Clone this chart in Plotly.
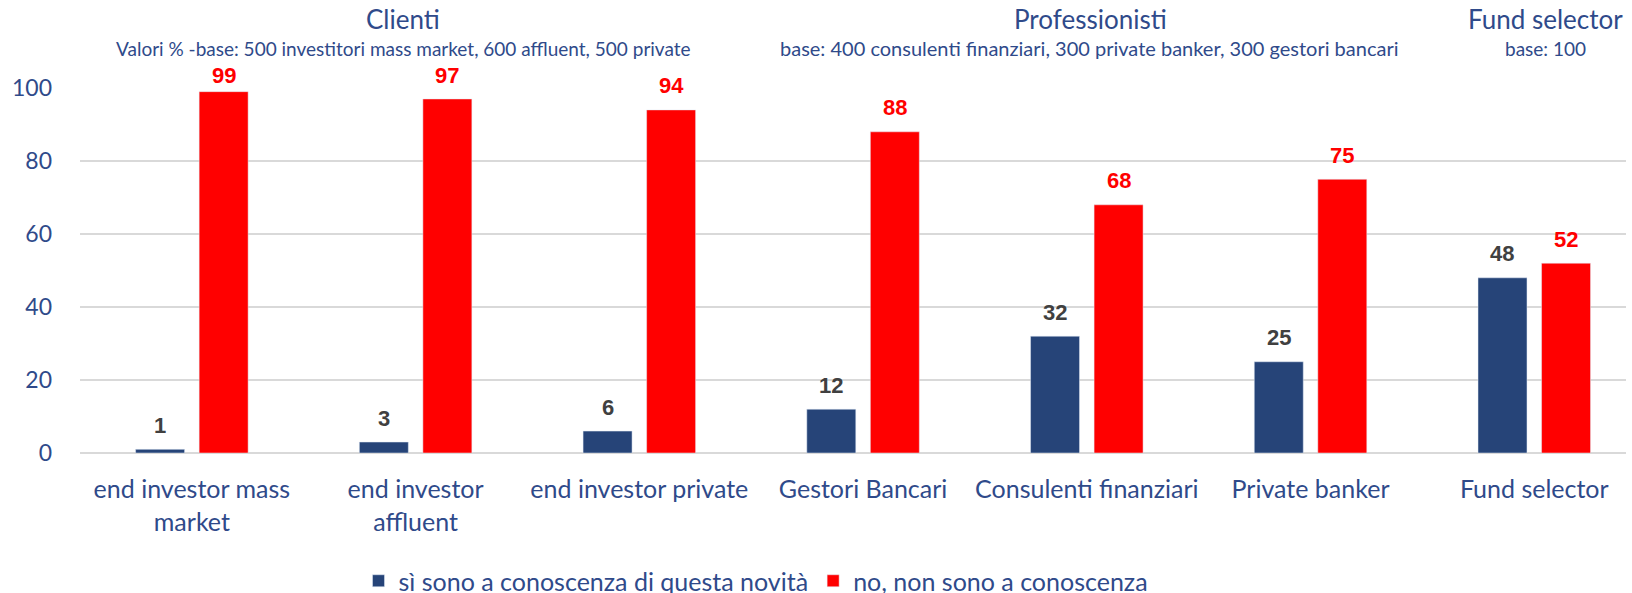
import plotly.graph_objects as go

categories = ["end investor mass<br>market", "end investor<br>affluent", "end investor private",
              "Gestori Bancari", "Consulenti finanziari", "Private banker", "Fund selector"]
si_values = [1, 3, 6, 12, 32, 25, 48]
no_values = [99, 97, 94, 88, 68, 75, 52]
series_names = ["sì sono a conoscenza di questa novità", "no, non sono a conoscenza"]
y_ticks = [0, 20, 40, 60, 80, 100]

BLUE = "#264478"
RED = "#FF0000"
TXT = "#2F4A8A"
LABEL_GRAY = "#404040"
FONT = "Lato, Liberation Sans, sans-serif"
BOLD_FONT = "Liberation Sans, Arial, sans-serif"

W, H = 1632, 593
L, R, T, B = 80, 6, 88, 140
ph = H - T - B
pw = W - L - R
X_RANGE = [-0.5, 6.41]
Y_RANGE = [0, 100]
BARGAP, BARGROUPGAP = 0.432, 0.229

def py(pix):
    return (H - B - pix) / ph

def px(pix):
    return (pix - L) / pw

fig = go.Figure()
fig.add_trace(go.Bar(x=categories, y=si_values, name=series_names[0], marker_color=BLUE))
fig.add_trace(go.Bar(x=categories, y=no_values, name=series_names[1], marker_color=RED))

# data labels: above each bar, kept just inside the top of the plot like the original
px_per_unit_x = pw / (X_RANGE[1] - X_RANGE[0])
px_per_unit_y = ph / (Y_RANGE[1] - Y_RANGE[0])
slot = (1 - BARGAP) / 2
shift = slot / 2 * px_per_unit_x
GAP_PX = 10.5
for vals, sgn, col in [(si_values, -1, LABEL_GRAY), (no_values, 1, RED)]:
    for c, v in zip(categories, vals):
        room = (Y_RANGE[1] - v) * px_per_unit_y - 1
        fig.add_annotation(x=c, y=v, xref="x", yref="y",
                           text=str(v), showarrow=False, xanchor="center", yanchor="bottom",
                           xshift=sgn * shift, yshift=min(GAP_PX, room), borderpad=0,
                           font=dict(size=22, color=col, family=BOLD_FONT, weight="bold"))

headers = [
    ("Clienti", 403, 19, 26),
    ("Valori % -base: 500 investitori mass market, 600 affluent, 500 private", 403, 48, 19),
    ("Professionisti", 1090, 19, 26),
    ("base: 400 consulenti finanziari, 300 private banker, 300 gestori bancari", 1089, 48, 20),
    ("Fund selector", 1545, 19, 26),
    ("base: 100", 1545, 48, 19),
]
for txt, x, y, s in headers:
    fig.add_annotation(text=txt, x=px(x), y=py(y), xref="paper", yref="paper",
                       showarrow=False, xanchor="center", yanchor="middle",
                       font=dict(size=s, color=TXT, family=FONT))

fig.update_layout(
    width=W, height=H,
    margin=dict(l=L, r=R, t=T, b=B, autoexpand=False),
    paper_bgcolor="white", plot_bgcolor="white",
    barmode="group", bargap=BARGAP, bargroupgap=BARGROUPGAP,
    font=dict(family=FONT, color=TXT, size=25),
    showlegend=True,
    legend=dict(orientation="h", x=px(756), xanchor="center", y=py(581), yanchor="middle",
                font=dict(size=25, color=TXT, family=FONT), itemwidth=30,
                traceorder="normal"),
    xaxis=dict(range=X_RANGE, showgrid=False, showline=False, ticks="", automargin=False,
               tickfont=dict(size=25, color=TXT, family=FONT), ticklabelstandoff=19),
    yaxis=dict(range=Y_RANGE, tickvals=y_ticks, showgrid=True, gridcolor="#D9D9D9",
               gridwidth=1.5, zeroline=True, zerolinecolor="#D9D9D9", zerolinewidth=2,
               showline=False, ticks="", automargin=False,
               tickfont=dict(size=23, color=TXT, family=FONT), ticklabelstandoff=27),
)

fig.write_html("out.html", config={"displayModeBar": False},
               post_script="document.body.style.margin='0';document.body.style.overflow='hidden';")
